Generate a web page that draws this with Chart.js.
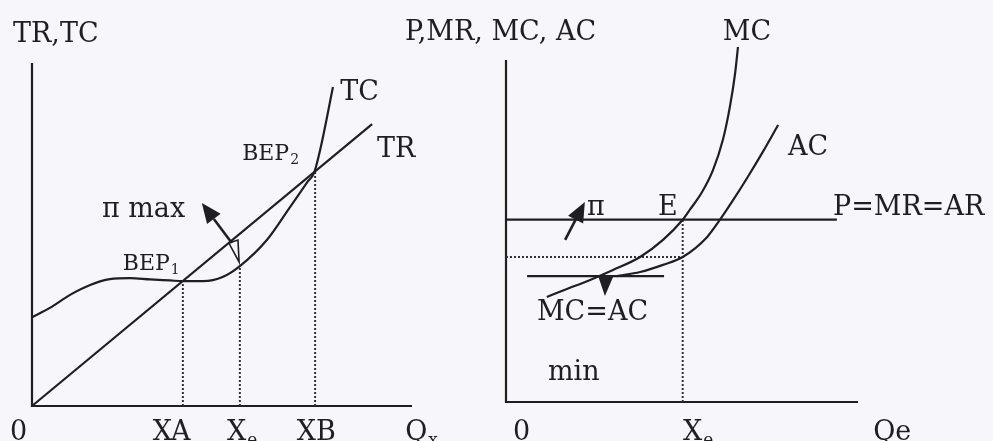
<!DOCTYPE html>
<html><head><meta charset="utf-8">
<script src="https://cdn.jsdelivr.net/npm/chart.js@4/dist/chart.umd.min.js"></script>
<style>
html,body{margin:0;padding:0;background:#f7f6fa;}
#wrap{position:relative;width:993px;height:441px;overflow:hidden;}
canvas{position:absolute;left:0;top:0;}
</style></head><body>
<div id="wrap"><canvas id="c1" width="993" height="441"></canvas><canvas id="c2" width="993" height="441"></canvas></div>
<script>
// ---------- left panel data (Q, TR/TC) ----------
const trQ = [0, 8.95];
const trV = [0, 8.22];
const tcQ = [0, 0.47, 1.0, 1.53, 2.05, 2.58, 3.11, 3.63, 3.97, 4.50, 5.03, 5.47, 6.18, 6.79, 7.24, 7.43, 7.60, 7.92];
const tcV = [2.59, 2.86, 3.24, 3.53, 3.70, 3.73, 3.69, 3.66, 3.64, 3.64, 3.77, 4.08, 4.84, 5.80, 6.52, 6.82, 7.55, 9.30];
const dropQ = [3.97, 5.47, 7.45];          // XA, Xe, XB
const dropTop = [3.64, 4.08, 6.84];
const leftTickLabels = ['0', 'XA', 'X|e', 'XB', 'Q|x'];

// ---------- right panel data (P, MC, AC) ----------
const priceLevel = 5.33;
const priceQ = [0, 9.40];
const mcQ = [1.16, 1.62, 2.39, 3.04, 3.81, 4.46, 5.02, 5.23, 5.57, 5.88, 6.16, 6.36, 6.51, 6.59];
const mcV = [3.07, 3.26, 3.57, 3.86, 4.24, 4.74, 5.33, 5.63, 6.14, 6.78, 7.66, 8.63, 9.62, 10.38];
const acQ = [3.15, 3.81, 4.46, 5.02, 5.71, 6.08, 6.45, 6.85, 7.30, 7.73];
const acV = [3.68, 3.80, 4.01, 4.24, 4.82, 5.33, 5.90, 6.55, 7.32, 8.10];
const minQ = [0.6, 4.49];
const minLevel = 3.68;
const xeRight = 5.02;
const acAtXe = 4.24;
const rightTickLabels = ['0', 'X|e', 'Qe'];

const INK = '#1f1f22';
const FONT = '"DejaVu Serif", "Liberation Serif", serif';

function pts(q, v) { return q.map((x, i) => ({x, y: v[i]})); }
function line(q, v, extra) {
  return Object.assign({data: pts(q, v), showLine: true, pointRadius: 0, borderColor: INK,
    borderWidth: 2.2, cubicInterpolationMode: 'monotone', clip: false, fill: false}, extra || {});
}
function straight(q, v) { return line(q, v, {cubicInterpolationMode: 'default', tension: 0}); }
function dotted(q, v) { return line(q, v, {borderWidth: 2, borderDash: [2, 2], cubicInterpolationMode: 'default', tension: 0, borderColor: '#333'}); }

const decoPlugin = {
  id: 'deco',
  beforeDatasetsDraw(chart, args, o) {
    const ctx = chart.ctx, xs = chart.scales.x, ys = chart.scales.y;
    ctx.save();
    ctx.strokeStyle = INK; ctx.lineWidth = 2.2; ctx.lineCap = 'butt';
    ctx.beginPath();
    ctx.moveTo(xs.getPixelForValue(0), ys.getPixelForValue(o.axisTop));
    ctx.lineTo(xs.getPixelForValue(0), ys.getPixelForValue(0));
    ctx.lineTo(xs.getPixelForValue(o.axisRight), ys.getPixelForValue(0));
    ctx.stroke();
    ctx.restore();
  },
  afterDatasetsDraw(chart, args, o) {
    const ctx = chart.ctx, xs = chart.scales.x, ys = chart.scales.y;
    const X = v => xs.getPixelForValue(v), Y = v => ys.getPixelForValue(v);
    ctx.save();
    ctx.fillStyle = INK; ctx.strokeStyle = INK;
    (o.arrows || []).forEach(a => {
      const x0 = X(a[0]), y0 = Y(a[1]), x1 = X(a[2]), y1 = Y(a[3]);
      const ang = Math.atan2(y1 - y0, x1 - x0), L = 20, W = 8.5;
      const bx = x1 - L * Math.cos(ang), by = y1 - L * Math.sin(ang);
      ctx.lineWidth = 2.6;
      ctx.beginPath(); ctx.moveTo(x0, y0); ctx.lineTo(bx, by); ctx.stroke();
      ctx.beginPath(); ctx.moveTo(x1, y1);
      ctx.lineTo(bx + W * Math.sin(ang), by - W * Math.cos(ang));
      ctx.lineTo(bx - W * Math.sin(ang), by + W * Math.cos(ang));
      ctx.closePath(); ctx.fill();
    });
    (o.polys || []).forEach(p => {
      ctx.beginPath();
      p.pts.forEach((q, i) => { const px = X(q[0]), py = Y(q[1]); i ? ctx.lineTo(px, py) : ctx.moveTo(px, py); });
      ctx.closePath();
      if (p.fill) ctx.fill(); else { ctx.lineWidth = 1.6; ctx.stroke(); }
    });
    ctx.textBaseline = 'alphabetic'; ctx.textAlign = 'left';
    (o.labels || []).forEach(l => {
      const size = l.size || 27;
      const parts = l.text.split('|');
      const px = X(l.x), py = Y(l.y);
      ctx.font = size + 'px ' + FONT;
      ctx.fillText(parts[0], px, py);
      if (parts[1]) {
        const w = ctx.measureText(parts[0]).width;
        ctx.font = Math.round(size * 0.62) + 'px ' + FONT;
        ctx.fillText(parts[1], px + w + 1, py + size * 0.18);
      }
    });
    ctx.restore();
  }
};

function mkChart(id, datasets, pad, deco) {
  return new Chart(document.getElementById(id), {
    type: 'scatter',
    data: {datasets},
    options: {
      responsive: false, animation: false, events: [],
      layout: {padding: pad},
      scales: {x: {type: 'linear', min: 0, max: 10, display: false},
               y: {type: 'linear', min: 0, max: 10, display: false}},
      plugins: {legend: {display: false}, tooltip: {enabled: false}, deco}
    },
    plugins: [decoPlugin]
  });
}

// ---------- left chart ----------
const leftSets = [straight(trQ, trV), line(tcQ, tcV)];
dropQ.forEach((q, i) => leftSets.push(dotted([q, q], [0, dropTop[i]])));
mkChart('c1', leftSets, {left: 32, right: 581, top: 63, bottom: 35}, {
  axisTop: 10, axisRight: 10,
  arrows: [[5.26, 4.75, 4.47, 5.92]],
  polys: [{pts: [[5.18, 4.75], [5.42, 4.84], [5.45, 4.20]], fill: false}],
  labels: [
    {text: 'TR,TC', x: -0.5, y: 10.61},
    {text: 'TC', x: 8.11, y: 8.92},
    {text: 'TR', x: 9.08, y: 7.26},
    {text: 'BEP|2', x: 5.53, y: 7.17, size: 22},
    {text: 'π max', x: 1.84, y: 5.51},
    {text: 'BEP|1', x: 2.39, y: 3.97, size: 22},
    {text: leftTickLabels[0], x: -0.58, y: -0.99},
    {text: leftTickLabels[1], x: 3.18, y: -0.99},
    {text: leftTickLabels[2], x: 5.13, y: -0.99},
    {text: leftTickLabels[3], x: 6.97, y: -0.99},
    {text: leftTickLabels[4], x: 9.82, y: -0.99}
  ]
});

// ---------- right chart ----------
const rightSets = [
  straight(priceQ, [priceLevel, priceLevel]),
  line(mcQ, mcV), line(acQ, acV),
  straight(minQ, [minLevel, minLevel]),
  dotted([0, xeRight], [acAtXe, acAtXe]),
  dotted([xeRight, xeRight], [0, priceLevel])
];
mkChart('c2', rightSets, {left: 506, right: 135, top: 60, bottom: 39}, {
  axisTop: 10, axisRight: 10,
  arrows: [[1.68, 4.74, 2.24, 5.85]],
  polys: [{pts: [[2.62, minLevel], [3.05, minLevel], [2.81, 3.10]], fill: true}],
  labels: [
    {text: 'P,MR, MC, AC', x: -2.87, y: 10.58},
    {text: 'MC', x: 6.16, y: 10.58},
    {text: 'AC', x: 8.01, y: 7.22},
    {text: 'E', x: 4.32, y: 5.47},
    {text: 'π', x: 2.30, y: 5.47},
    {text: 'P=MR=AR', x: 9.29, y: 5.47},
    {text: 'MC=AC', x: 0.88, y: 2.40},
    {text: 'min', x: 1.19, y: 0.64},
    {text: rightTickLabels[0], x: 0.20, y: -1.11},
    {text: rightTickLabels[1], x: 5.03, y: -1.11},
    {text: rightTickLabels[2], x: 10.43, y: -1.11}
  ]
});
</script>
</body></html>
